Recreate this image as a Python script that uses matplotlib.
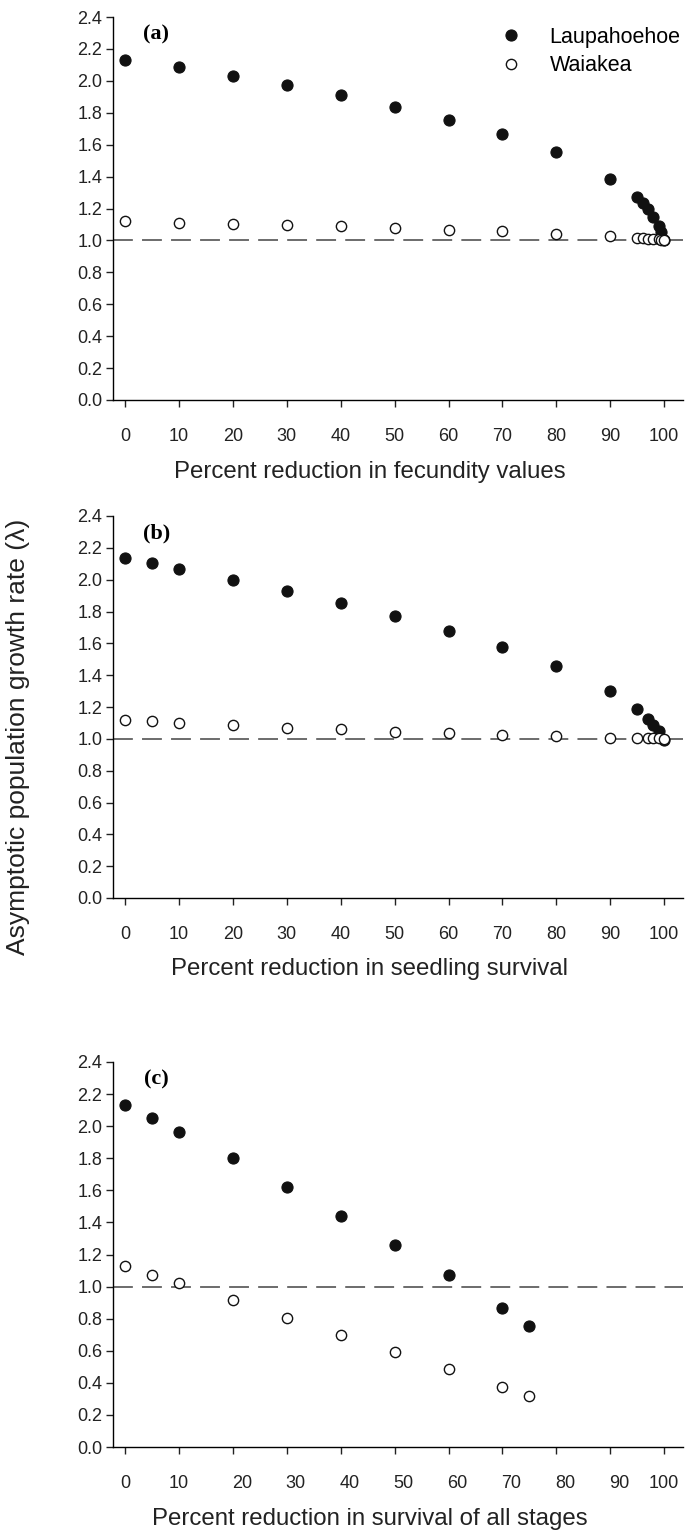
import numpy as np
import matplotlib.pyplot as plt
from matplotlib.transforms import ScaledTranslation

plt.rcParams['font.family'] = ['Liberation Sans', 'DejaVu Sans']

# panel (a): reduction in fecundity
xa = [0, 10, 20, 30, 40, 50, 60, 70, 80, 90, 95, 96, 97, 98, 99, 99.5, 100]
laup_a = [2.13, 2.085, 2.03, 1.972, 1.91, 1.838, 1.757, 1.667, 1.552, 1.387,
          1.27, 1.235, 1.195, 1.145, 1.09, 1.05, 1.0]
wai_a = [1.12, 1.112, 1.105, 1.095, 1.088, 1.08, 1.066, 1.057, 1.04, 1.025,
         1.015, 1.014, 1.012, 1.01, 1.008, 1.005, 1.0]

# panel (b): reduction in seedling survival
xb = [0, 5, 10, 20, 30, 40, 50, 60, 70, 80, 90, 95, 97, 98, 99, 100]
laup_b = [2.135, 2.105, 2.07, 2.0, 1.928, 1.855, 1.77, 1.68, 1.58, 1.46,
          1.303, 1.19, 1.125, 1.088, 1.05, 0.995]
wai_b = [1.12, 1.113, 1.10, 1.086, 1.07, 1.06, 1.046, 1.034, 1.025, 1.015,
         1.008, 1.007, 1.005, 1.004, 1.003, 1.0]

# panel (c): reduction in survival of all stages
xc = [0, 5, 10, 20, 30, 40, 50, 60, 70, 75]
laup_c = [2.134, 2.05, 1.963, 1.80, 1.62, 1.443, 1.262, 1.07, 0.865, 0.757]
wai_c = [1.128, 1.075, 1.023, 0.915, 0.805, 0.70, 0.592, 0.485, 0.376, 0.317]

xticks = list(range(0, 101, 10))
yticks = [0.0, 0.2, 0.4, 0.6, 0.8, 1.0, 1.2, 1.4, 1.6, 1.8, 2.0, 2.2, 2.4]

panels = [
    ('(a)', xa, laup_a, wai_a, 'Percent reduction in fecundity values'),
    ('(b)', xb, laup_b, wai_b, 'Percent reduction in seedling survival'),
    ('(c)', xc, laup_c, wai_c, 'Percent reduction in survival of all stages'),
]

W, H = 688, 1537
fig = plt.figure(figsize=(W / 100, H / 100), dpi=100)

# axes boxes in pixels: (top of 2.4, bottom at 0.0)
boxes = [(17, 400), (516, 898), (1062, 1447)]
left, right = 113.5, 683

for i, (tag, x, laup, wai, xlab) in enumerate(panels):
    top, bot = boxes[i]
    ax = fig.add_axes([left / W, 1 - bot / H, (right - left) / W, (bot - top) / H])
    ax.axhline(1.0, color='#444444', lw=1.1, dashes=(13, 6), zorder=1)
    ax.plot(x, laup, 'o', ms=8, mfc='#111111', mec='#111111', mew=0.8,
            label='Laupahoehoe', zorder=3)
    ax.plot(x, wai, 'o', ms=7.4, mfc='white', mec='#111111', mew=1.0,
            label='Waiakea', zorder=4)
    ax.set_xlim(-2.15, 103.5)
    ax.set_ylim(0, 2.4)
    ax.set_xticks(xticks)
    ax.set_yticks(yticks)
    ax.set_yticklabels(['%.1f' % v for v in yticks])
    ax.spines['top'].set_visible(False)
    ax.spines['right'].set_visible(False)
    ax.spines['left'].set_linewidth(1.0)
    ax.spines['bottom'].set_linewidth(1.0)
    ax.tick_params(axis='both', direction='out', length=5, width=1.0,
                   labelsize=13, color='#222222', labelcolor='#222222')
    ax.tick_params(axis='x', pad=15)
    ax.tick_params(axis='y', pad=3)
    ax.set_xlabel(xlab, fontsize=17.3, color='#222222')
    # x labels are centred a bit left of the axes middle in the original
    ax.xaxis.set_label_coords(0.45, -0.158)
    if i == 2:
        # the middle tick labels sit a little right of their ticks here
        for lab in ax.get_xticklabels()[2:10]:
            lab.set_transform(lab.get_transform() +
                              ScaledTranslation(9 / 100, 0, fig.dpi_scale_trans))
    ax.text(0.075, 0.955, tag, transform=ax.transAxes, fontsize=16,
            fontweight='bold', family='Liberation Serif', va='center', ha='center')
    if i == 0:
        ax.legend(loc='upper left', bbox_to_anchor=(0.66, 0.975), frameon=False,
                  fontsize=15.5, borderpad=0, borderaxespad=0, numpoints=1,
                  handletextpad=0.8, labelspacing=0.35)

fig.text(18 / W, 1 - 737 / H, 'Asymptotic population growth rate (\u03bb)',
         rotation=90, fontsize=19, color='#222222', ha='center', va='center')

fig.savefig('out.png', dpi=100)
